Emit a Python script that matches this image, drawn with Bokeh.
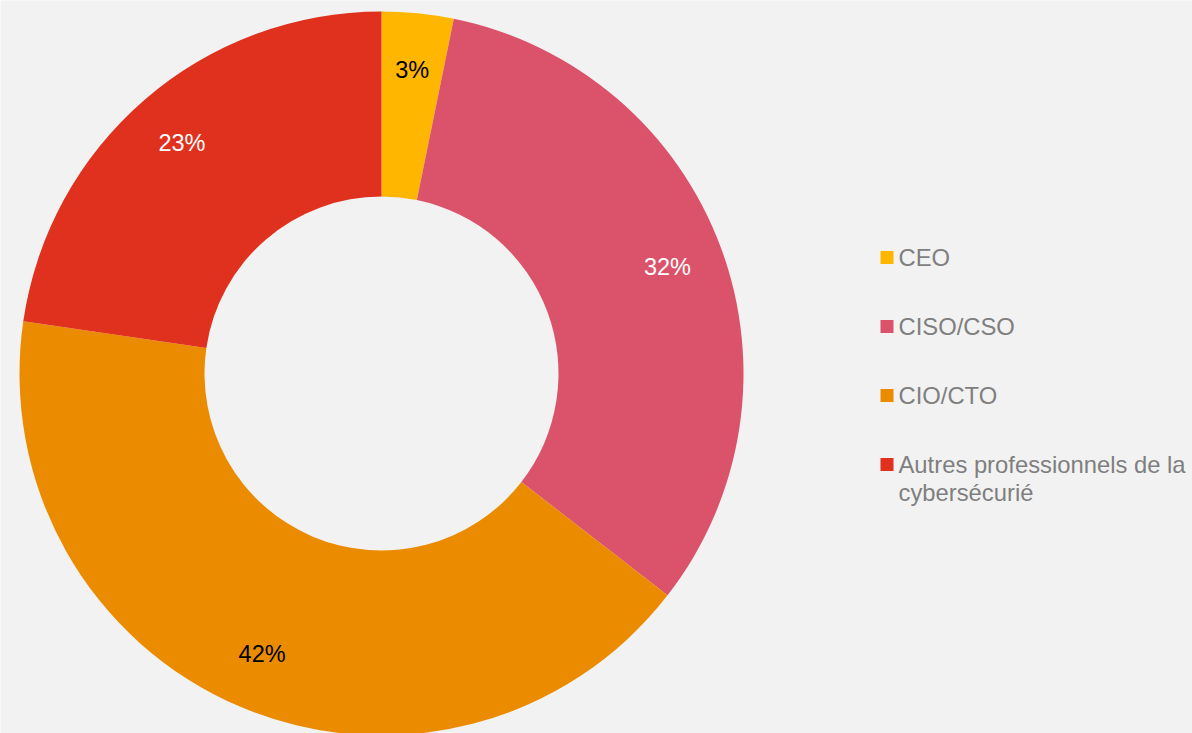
import math
from bokeh.plotting import figure
from bokeh.models import Range1d, ColumnDataSource
from bokeh.core.properties import value
from bokeh.embed import file_html
from bokeh.resources import INLINE

# ---- data ----
categories = ["CEO", "CISO/CSO", "CIO/CTO", "Autres professionnels de la cybersécurié"]
shares = [3.2, 32.3, 41.8, 22.7]
colors = ["#FFB600", "#DB536A", "#EB8C00", "#E0301E"]
label_colors = ["#000000", "#FFFFFF", "#000000", "#FFFFFF"]

# ---- layout (page pixels) ----
W, H = 1192, 733
BG = "#F2F2F2"
FONT = "Liberation Sans"

def py(y_page):
    return H - y_page

cx, cy = 381, 373
r_out, r_in = 362, 177
r_lab = 305

p = figure(width=W, height=H, output_backend="svg", toolbar_location=None,
           x_range=Range1d(0, W), y_range=Range1d(0, H),
           min_border=0, background_fill_color=BG, border_fill_color=BG,
           outline_line_color=None)
p.axis.visible = False
p.grid.visible = False

total = sum(shares)
starts, ends, lx, ly, labs = [], [], [], [], []
cum = 0.0
for v in shares:
    a0 = cum / total
    cum += v
    a1 = cum / total
    starts.append(math.pi / 2 - 2 * math.pi * a0)
    ends.append(math.pi / 2 - 2 * math.pi * a1)
    mid = 2 * math.pi * (a0 + a1) / 2
    lx.append(cx + r_lab * math.sin(mid))
    ly.append(py(cy - r_lab * math.cos(mid)))
    labs.append(f"{round(v)}%")

src = ColumnDataSource(dict(start=starts, end=ends, color=colors,
                            lx=lx, ly=ly, lab=labs, lc=label_colors))
p.annular_wedge(x=cx, y=py(cy), inner_radius=r_in, outer_radius=r_out,
                start_angle="start", end_angle="end", direction="clock",
                fill_color="color", line_color=None, source=src)
p.text(x="lx", y="ly", text="lab", text_color="lc", source=src,
       text_font=value(FONT), text_font_size="23.5px",
       text_align="center", text_baseline="middle")

# ---- legend ----
leg_x_sq = 886.5
leg_x_txt = 898
leg_y0 = 257
leg_step = 69
line_h = 28
sq = 13
max_chars = 27

def wrap(s, n):
    words, lines, cur = s.split(), [], ""
    for w in words:
        if cur and len(cur) + 1 + len(w) > n:
            lines.append(cur)
            cur = w
        else:
            cur = (cur + " " + w).strip()
    lines.append(cur)
    return lines

sx, sy, tx, ty, tt = [], [], [], [], []
for i, cat in enumerate(categories):
    yc = leg_y0 + i * leg_step
    sx.append(leg_x_sq)
    sy.append(py(yc))
    for j, line in enumerate(wrap(cat, max_chars)):
        tx.append(leg_x_txt)
        ty.append(py(yc + j * line_h))
        tt.append(line)

p.rect(x=sx, y=sy, width=sq, height=sq, fill_color=colors, line_color=None)
p.text(x=tx, y=ty, text=tt, text_color="#7F7F7F", text_font=value(FONT),
       text_font_size="23.8px", text_align="left", text_baseline="middle")

html = file_html(p, INLINE)
open("out.html", "w").write(html)
